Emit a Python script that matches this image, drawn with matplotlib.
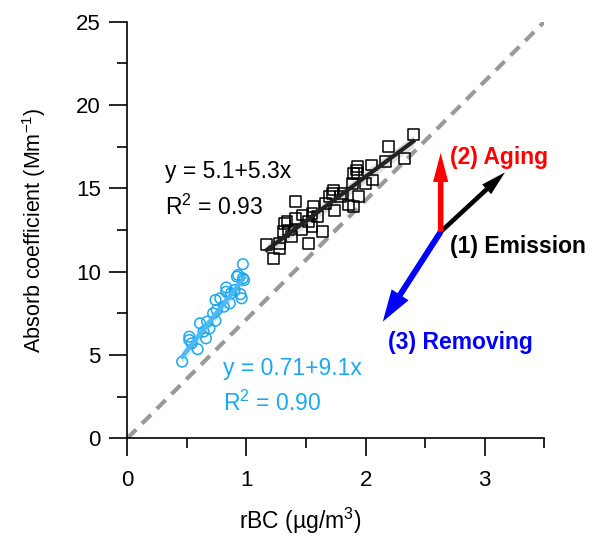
import numpy as np
import matplotlib
matplotlib.use("Agg")
import matplotlib.pyplot as plt

# -----------------------------
# Data
# -----------------------------
# black squares (later period)
sq_x = [2.40, 2.19, 2.33, 2.17, 2.05, 2.06, 1.93, 1.92, 1.90, 1.93, 1.89, 2.00,
        1.94, 1.86, 1.90, 1.81, 1.73, 1.72, 1.70, 1.66, 1.74, 1.56, 1.55, 1.41,
        1.47, 1.41, 1.55, 1.64, 1.46, 1.34, 1.32, 1.35, 1.31, 1.38, 1.52, 1.17,
        1.28, 1.23, 1.28, 1.52, 1.60, 1.79]
sq_y = [18.25, 17.5, 16.8, 16.6, 16.4, 15.5, 16.3, 16.1, 15.9, 15.9, 15.3, 15.3,
        14.5, 14.0, 13.9, 14.7, 14.9, 14.7, 14.5, 14.1, 13.65, 13.9, 13.5, 14.2,
        13.4, 13.2, 12.7, 12.4, 12.5, 13.0, 12.9, 12.5, 12.4, 12.1, 11.7, 11.65,
        11.4, 10.8, 11.7, 13.0, 13.3, 14.5]

# blue circles (earlier period)
ci_x = [0.46, 0.97, 0.52, 0.59, 0.66, 0.61, 0.74, 0.72, 0.74, 0.83, 0.83, 0.93,
        0.97, 0.98, 0.95, 0.96, 0.86, 0.81, 0.69, 0.54, 0.64, 0.90, 0.78, 0.92,
        0.67, 0.75, 0.52, 0.87]
ci_y = [4.6, 10.45, 6.1, 5.35, 6.0, 6.9, 7.05, 7.5, 8.3, 9.05, 8.8, 9.8,
        9.6, 9.5, 8.65, 8.4, 8.1, 7.9, 6.6, 5.7, 6.4, 8.9, 8.4, 9.7,
        7.0, 7.7, 5.9, 8.7]

# fit coefficients shown on the chart
fit_black = (5.1, 5.3)
fit_blue = (0.71, 9.1)

# reference line end point
ref_x = [0, 3.5]
ref_y = [0, 25]

# process arrows: start and end points
arrow_start = (2.63, 12.39)
arrow_ends = {"aging": (2.63, 17.13), "emission": (3.17, 15.96), "removing": (2.144, 7.0)}

# -----------------------------
# Style
# -----------------------------
plt.rcParams['font.family'] = ['Liberation Sans', 'DejaVu Sans']
plt.rcParams['mathtext.fontset'] = 'custom'
plt.rcParams['mathtext.rm'] = 'Liberation Sans'
plt.rcParams['mathtext.it'] = 'Liberation Sans:italic'

blue = '#1AA8F2'
fs = 16.5

fig = plt.figure(figsize=(6, 5.44), dpi=100)
ax = fig.add_axes([0.2122, 0.1943, 0.695, 0.7658])

# dashed reference line
ax.plot(ref_x, ref_y, color='#999999', lw=3, dashes=(3, 2), zorder=1)

# fit lines with a light band
xb = np.array([min(sq_x), max(sq_x)])
yb = fit_black[0] + fit_black[1] * xb
ax.fill_between(xb, yb - 0.35, yb + 0.35, color='#dddddd', lw=0, zorder=2)
ax.plot(xb, yb, color='#222222', lw=3, zorder=4)

xc = np.array([min(ci_x), max(ci_x)])
yc = fit_blue[0] + fit_blue[1] * xc
ax.fill_between(xc, yc - 0.35, yc + 0.35, color='#bfe6fb', lw=0, zorder=2)
ax.plot(xc, yc, color='#4DB8F2', lw=3, zorder=4)

# scatter
ax.scatter(sq_x, sq_y, marker='s', s=62, facecolors='none', edgecolors='black',
           linewidths=1.1, zorder=3)
ax.scatter(ci_x, ci_y, marker='o', s=58, facecolors='none', edgecolors=blue,
           linewidths=1.1, zorder=3)

# equations
ax.text(0.32, 16.0, 'y = 5.1+5.3x', fontsize=fs, va='center', ha='left')
ax.text(0.32, 13.85, 'R$^2$ = 0.93', fontsize=fs, va='center', ha='left')
ax.text(0.805, 4.2, 'y = 0.71+9.1x', fontsize=fs, va='center', ha='left', color=blue)
ax.text(0.805, 2.1, 'R$^2$ = 0.90', fontsize=fs, va='center', ha='left', color=blue)

# process arrows (filled, no outline)
arrow_cols = {"aging": '#FF0000', "emission": 'black', "removing": '#0000FF'}
arrow_shape = {
    "aging": 'simple,head_length=2.1,head_width=1.1,tail_width=0.4',
    "emission": 'simple,head_length=1.8,head_width=0.95,tail_width=0.33',
    "removing": 'simple,head_length=2.3,head_width=1.45,tail_width=0.43',
}
for key in ["emission", "removing", "aging"]:
    ax.annotate('', xy=arrow_ends[key], xytext=arrow_start,
                arrowprops=dict(arrowstyle=arrow_shape[key], mutation_scale=10,
                                fc=arrow_cols[key], ec='none', lw=0,
                                shrinkA=0, shrinkB=0),
                zorder=5)

ax.text(2.71, 16.85, '(2) Aging', fontsize=fs, fontweight='bold', color='#FF0000',
        va='center', ha='left')
ax.text(2.71, 11.5, '(1) Emission', fontsize=fs, fontweight='bold', color='black',
        va='center', ha='left')
ax.text(2.19, 5.75, '(3) Removing', fontsize=fs, fontweight='bold', color='#0000FF',
        va='center', ha='left')

# axes
ax.set_xlim(0, 3.5)
ax.set_ylim(0, 25)
ax.set_xticks([0, 1, 2, 3])
ax.set_xticks(np.arange(0, 3.51, 0.5), minor=True)
ax.set_yticks([0, 5, 10, 15, 20, 25])
ax.set_yticks(np.arange(0, 25.1, 2.5), minor=True)
for s in ['top', 'right']:
    ax.spines[s].set_visible(False)
for s in ['left', 'bottom']:
    ax.spines[s].set_linewidth(1.2)
ax.tick_params(which='major', direction='out', length=13, width=1.2, labelsize=16)
ax.tick_params(which='minor', direction='out', length=7, width=1.2)
ax.tick_params(axis='x', which='major', pad=10)
ax.tick_params(axis='y', which='major', pad=6)

ax.set_xlabel('rBC (µg/m$^3$)', fontsize=fs)
ax.set_ylabel('Absorb coefficient (Mm$^{-1}$)', fontsize=15.5)
ax.xaxis.set_label_coords(0.414, -0.162)
ax.yaxis.set_label_coords(-0.19, 0.5)

fig.savefig('out.png', dpi=100)
